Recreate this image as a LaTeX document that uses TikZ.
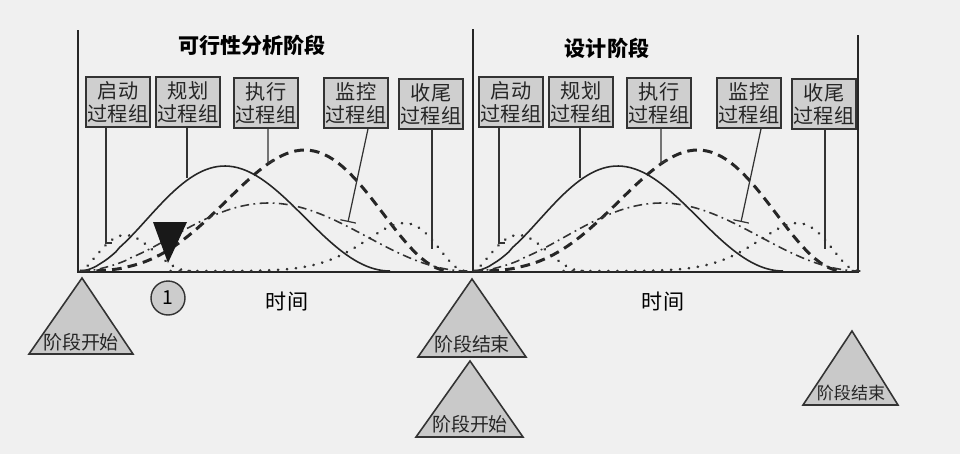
\documentclass[tikz,border=0pt]{standalone}
\usepackage{fontspec}
\setmainfont{Noto Sans CJK SC}
\usetikzlibrary{arrows.meta,positioning,calc}

\begin{document}
\begin{tikzpicture}[x=0.02cm,y=-0.02cm,
    declare function={bump(\t,\k)=sin(180*(\t)^(\k))^2;},
    grp/.style={draw=black!80,line width=1pt,fill=gray!38,minimum width=1.26cm,
      minimum height=1cm,inner sep=1pt,align=center,
      font=\fontsize{11.5}{13}\selectfont,text=black!85},
    lead/.style={black!80,line width=0.7pt},
    ms/.style={draw=black!80,line width=0.9pt,fill=gray!42},
    mstext/.style={font=\fontsize{10.8}{12}\selectfont,text=black!85},
    plan/.style={black!85,line width=0.9pt},
    exec/.style={black!85,line width=1.7pt,dash pattern=on 5.5pt off 3.5pt},
    ctrl/.style={black!80,line width=0.9pt,dash pattern=on 5pt off 2.5pt on 1pt off 2.5pt},
    dots/.style={black!80,line width=1.6pt,dash pattern=on 0.1pt off 5pt,line cap=round},
  ]
      \fill[gray!12] (0,0) rectangle (960,454);
      \useasboundingbox (0,0) rectangle (960,454);

      % frame of the two phases
      \draw[black!85,line width=1.2pt] (78,30) -- (78,272) -- (858,272) -- (858,35);
      \draw[black!85,line width=1.2pt] (473,29) -- (473,272);

      \node[font=\fontsize{12}{14}\selectfont\bfseries] (tL) at (252,45) {可行性分析阶段};
      \node[font=\fontsize{12}{14}\selectfont\bfseries] (tR) at (607,48) {设计阶段};

      \foreach \p/\dx in {L/0,R/393} {
        \begin{scope}[shift={(\dx,0)}]
          \node[grp] (i\p) at (118,102) {启动\\过程组};
          \node[grp] (p\p) at (188,102) {规划\\过程组};
          \node[grp] (e\p) at (266,103) {执行\\过程组};
          \node[grp] (m\p) at (356,103) {监控\\过程组};
          \node[grp] (c\p) at (431,104) {收尾\\过程组};

          % process group curves
          \draw[dots] plot[domain=80.5:190,samples=40] (\x,{271-36*bump((\x-80)/110,0.78)});
          \draw[plan] plot[domain=80.5:390,samples=80] (\x,{271-105*bump((\x-80)/310,0.91)});
          \draw[exec] plot[domain=80.5:450,samples=80] (\x,{271-121*bump((\x-80)/370,1.39)});
          \draw[ctrl] plot[domain=80.5:468,samples=80] (\x,{271-68*bump((\x-80)/388,0.96)});
          \draw[dots] plot[domain=170.5:465,samples=60] (\x,{271-48*bump((\x-170)/295,3)});

          % leaders
          \coordinate (ci\p) at (106,243);
          \draw[lead] (i\p.south -| ci\p) -- (ci\p) -- ++(6,0);
          \coordinate (cp\p) at (187,178);
          \draw[lead] (p\p.south -| cp\p) -- (cp\p);
          \coordinate (ce\p) at (268,163);
          \draw[lead] (e\p.south -| ce\p) -- (ce\p) -- ++(7,-3);
          \coordinate (cm\p) at (348,222);
          \draw[lead,-{Bar[width=9pt,line width=0.7pt]}] ([xshift=0.24cm]m\p.south) -- (cm\p);
          \coordinate (cc\p) at (432,249);
          \draw[lead] (c\p.south -| cc\p) -- (cc\p);
        \end{scope}
      }

      \fill[black!90] (153,222) -- (187,222) -- (168,263) -- cycle;
      \node[circle,draw=black!80,line width=0.8pt,fill=gray!40,minimum size=0.68cm,
        inner sep=0pt,font=\fontsize{11}{11}\selectfont] (n1) at (168,298) {1};

      \node[font=\fontsize{12}{14}\selectfont] (xL) at (287,302) {时间};
      \node[font=\fontsize{12}{14}\selectfont] (xR) at (663,302) {时间};

      % phase milestones
      \draw[ms] (82,278) -- (133,354) -- (29,354) -- cycle;
      \node[mstext] (s1) at (81,342) {阶段开始};
      \draw[ms] (472,279) -- (526,357) -- (418,357) -- cycle;
      \node[mstext] (e1) at (472,344) {阶段结束};
      \draw[ms] (470,361) -- (523,437) -- (416,437) -- cycle;
      \node[mstext] (s2) at (470,424) {阶段开始};
      \draw[ms] (852,331) -- (898,405) -- (803,405) -- cycle;
      \node[mstext,font=\fontsize{9.7}{11}\selectfont] (e2) at (851,393) {阶段结束};

    \end{tikzpicture}
\end{document}
